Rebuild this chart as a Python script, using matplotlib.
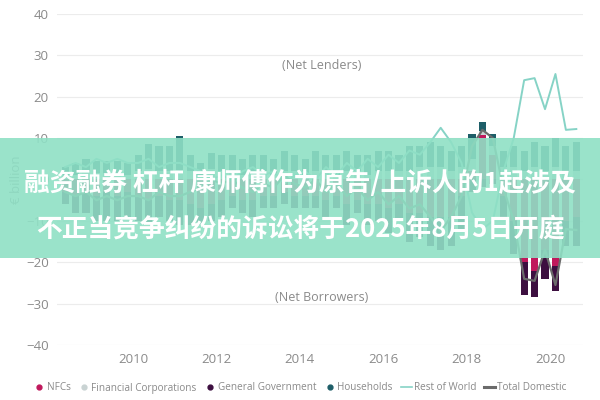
"""Net lending / borrowing by sector, quarterly, with a news banner on top."""
import matplotlib
matplotlib.use("Agg")
import matplotlib.pyplot as plt  # noqa: E402
from matplotlib.lines import Line2D  # noqa: E402
from matplotlib.patches import Rectangle  # noqa: E402
import numpy as np  # noqa: E402

# quarters 2008Q2 .. 2020Q3, plotted at mid-quarter
quarters = [2008.375 + 0.25 * i for i in range(50)]

households = [2, 3, 3,
              3, 3, 3, 3,
              4, 6, 6, 6,
              8, 4, 3, 4,
              4, 4, 4, 4,
              4, 4, 5, 4,
              4, 5, 4, 5,
              5, 4, 5, 5,
              5, 4, 6, 5,
              6, 5, 5, 5,
              6, 2, 3, 4,
              5, 5, 6, 6,
              7, 6, 7]
financial = [1, 1, 2,
             1.5, 1.5, 1.5, 1,
             2, 2.5, 2, 2,
             2.4, 2, 1, 2.5,
             2, 2, 1, 2,
             2, 1, 2, 2,
             1, 2, 2, 1,
             2, 2, 1, 2,
             2, 2, 2, 3,
             3, 3, 2, 3,
             3, 1, 2, 3,
             3, 2, 3, 2,
             3, 2, 2]
nfcs = [-3, -4, -3,
        -4, -3, -4, -3,
        -4, -5, -4, -5,
        -5, -6, -7, -6,
        -5, -4, -5, -5,
        -4, -4, -3, -4,
        -4, -4, -5, -4,
        -6, -5, -6, -6,
        -7, -6, -8, -8,
        -9, -9, -9, -4,
        2, 10.8, 6, -4,
        -10, -20, -22, -17,
        -21, -10, -9]
government = [-3, -4, -5,
              -6, -7, -6, -6,
              -6, -6, -5, -5,
              -6, -5, -4, -4,
              -4, -3, -3, -4,
              -3, -3, -3, -3,
              -3, -3, -4, -3,
              -5, -3, -5, -4,
              -6, -4, -7, -6,
              -7, -8, -7, -8,
              -3, -1.8, -1, -5,
              -8, -8, -6.5, -7,
              -6, -6, -7]
rest_of_world = [3, 4, 3,
                 5, 4, 5, 4,
                 4, 5, 3, 4,
                 4, 3, 2, 0,
                 1, 0, 2, 3,
                 1, 2, -1, 1,
                 2, 0, 3, 1,
                 4, 2, 5, 3,
                 6, 4, 7, 6,
                 9, 12.5, 9, 4,
                 -8, -12, -10, 2,
                 10, 24, 24.5, 17,
                 25.5, 12, 12.2]
total_domestic = [-3, -4, -3,
                  -5, -4, -5, -4,
                  -4, -5, -3, -4,
                  -4, -3, -2, 0,
                  -1, 0, -2, -3,
                  -1, -2, 1, -1,
                  -2, 0, -3, -1,
                  -4, -2, -5, -3,
                  -6, -4, -7, -6,
                  -9, -12.5, -9, -4,
                  8, 12, 10, -2,
                  -10, -24, -24.5, -17,
                  -25.5, -12, -12.2]

C_NFC = "#c0185c"
C_FIN = "#c9d3d3"
C_GOV = "#3d0f40"
C_HH = "#1e5e68"
C_ROW = "#86d3c6"
C_TD = "#6b6b6b"
GREY = "#8a8a8a"

plt.rcParams["font.family"] = ["Open Sans", "DejaVu Sans"]

fig = plt.figure(figsize=(6, 4), dpi=100)
ax = fig.add_axes([0.095, 0.1375, 0.877, 0.8275])

x = np.array(quarters)
series = [(nfcs, C_NFC), (government, C_GOV), (financial, C_FIN), (households, C_HH)]
pos_base = np.zeros(len(x))
neg_base = np.zeros(len(x))
w = 0.17
for vals, col in series:
    v = np.array(vals, dtype=float)
    p = np.where(v > 0, v, 0)
    n = np.where(v < 0, v, 0)
    ax.bar(x, p, w, bottom=pos_base, color=col, zorder=2)
    ax.bar(x, n, w, bottom=neg_base, color=col, zorder=2)
    pos_base += p
    neg_base += n

ax.plot(x, rest_of_world, color=C_ROW, lw=1.4, zorder=3)
ax.plot(x, total_domestic, color=C_TD, lw=1.6, zorder=3)

ax.set_xlim(2008.18, 2020.79)
ax.set_ylim(-40, 40)
ax.set_xticks([2010, 2012, 2014, 2016, 2018, 2020])
ax.set_yticks(range(-40, 41, 10))
ax.tick_params(colors=GREY, labelsize=9.5, length=0, pad=6)
ax.grid(axis="y", color="#ececec", lw=0.8, zorder=0)
for s in ax.spines.values():
    s.set_visible(False)
ax.set_ylabel("€ billion", color=GREY, fontsize=9.5, labelpad=2)

ax.text(2014.53, 27.5, "(Net Lenders)", color=GREY, fontsize=9, ha="center", va="center")
ax.text(2014.53, -28.5, "(Net Borrowers)", color=GREY, fontsize=9, ha="center", va="center")

handles = [
    Line2D([], [], ls="", marker="o", ms=3.5, color=C_NFC, label="NFCs"),
    Line2D([], [], ls="", marker="o", ms=3.5, color=C_FIN, label="Financial Corporations"),
    Line2D([], [], ls="", marker="o", ms=3.5, color=C_GOV, label="General Government"),
    Line2D([], [], ls="", marker="o", ms=3.5, color=C_HH, label="Households"),
    Line2D([], [], color=C_ROW, lw=1.2, label="Rest of World"),
    Line2D([], [], color=C_TD, lw=2.2, label="Total Domestic"),
]
fig.legend(handles=handles, loc="center", bbox_to_anchor=(0.5, 0.03), ncol=6,
           frameon=False, fontsize=7.2, labelcolor=GREY, handlelength=1.1,
           handletextpad=0.2, columnspacing=0.8)

# news banner laid over the chart
fig.patches.append(Rectangle((0, 1 - 258 / 400), 1, 120 / 400, transform=fig.transFigure,
                             facecolor="#8fe0c5", alpha=0.9, zorder=10))
cjk = ["Noto Sans CJK SC", "DejaVu Sans"]
fig.text(0.5, 1 - 183 / 400, "融资融券 杠杆 康师傅作为原告/上诉人的1起涉及",
         ha="center", va="center", color="white", fontsize=18.5, fontweight="bold",
         family=cjk, zorder=11)
fig.text(0.5, 1 - 229 / 400, "不正当竞争纠纷的诉讼将于2025年8月5日开庭",
         ha="center", va="center", color="white", fontsize=18.5, fontweight="bold",
         family=cjk, zorder=11)

fig.savefig("out.png", dpi=100)
